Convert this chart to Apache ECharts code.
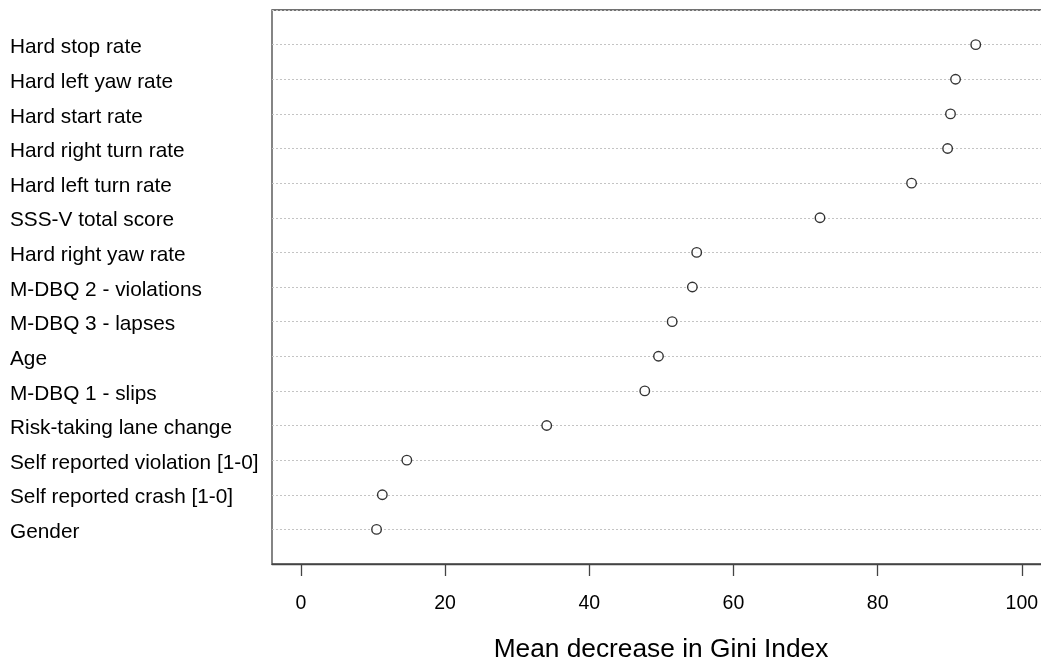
<!DOCTYPE html>
<html><head><meta charset="utf-8">
<script src="https://cdn.jsdelivr.net/npm/echarts@6/dist/echarts.min.js"></script>
<style>html,body{margin:0;padding:0;background:#fff}#c{width:1041px;height:662px}</style>
</head><body><div id="c"></div>
<script>
// Categories listed from top to bottom
const categories = [
  "Hard stop rate","Hard left yaw rate","Hard start rate","Hard right turn rate",
  "Hard left turn rate","SSS-V total score","Hard right yaw rate","M-DBQ 2 - violations",
  "M-DBQ 3 - lapses","Age","M-DBQ 1 - slips","Risk-taking lane change",
  "Self reported violation [1-0]","Self reported crash [1-0]","Gender"
];
const giniValues = [93.6,90.8,90.1,89.7,84.7,72.0,54.9,54.3,51.5,49.6,47.7,34.1,14.7,11.3,10.5];
const xTicks = [0,20,40,60,80,100];
const xTitle = "Mean decrease in Gini Index";

const n = categories.length;
const points = giniValues.map((v,i)=>[v, n - i]);
const rowValues = categories.map((c,i)=>n - i);
const font = "Liberation Sans, Arial, sans-serif";
const labelShift = 0.085; // text sits slightly below its row line

const chart = echarts.init(document.getElementById('c'));
chart.setOption({
  animation:false,
  grid:{left:272,top:10,width:778,height:554,show:true,borderColor:'#444',borderWidth:1.3,containLabel:false,outerBoundsMode:'none'},
  xAxis:{
    type:'value', min:-4.0, max:103.9,
    name:xTitle, nameLocation:'middle', nameGap:73,
    nameTextStyle:{fontFamily:font,fontSize:26.3,color:'#000'},
    axisLine:{show:true,lineStyle:{color:'#444',width:1.3}},
    axisTick:{show:true,length:12,inside:false,customValues:xTicks,lineStyle:{color:'#444',width:1.3}},
    axisLabel:{customValues:xTicks,margin:30,fontFamily:font,fontSize:19.5,color:'#000'},
    splitLine:{show:false}
  },
  yAxis:[{
    type:'value', min:0, max:n+1, interval:1,
    axisLine:{show:false}, axisTick:{show:false},
    axisLabel:{show:false},
    splitLine:{show:true,lineStyle:{color:'#c4c4c4',type:[2,2],width:1}}
  },{
    type:'value', position:'left', min:labelShift, max:n+1+labelShift,
    axisLine:{show:false}, axisTick:{show:false}, splitLine:{show:false},
    axisLabel:{
      customValues:rowValues,
      formatter:function(v){const i=n-Math.round(v); return (i>=0&&i<n)?categories[i]:'';},
      align:'left', margin:262, fontFamily:font, fontSize:20.8, color:'#000'
    }
  }],
  series:[{
    type:'scatter', data:points, symbol:'circle', symbolSize:9.5, yAxisIndex:0,
    itemStyle:{color:'#fff',borderColor:'#000',borderWidth:1.4}
  }]
});
</script></body></html>
